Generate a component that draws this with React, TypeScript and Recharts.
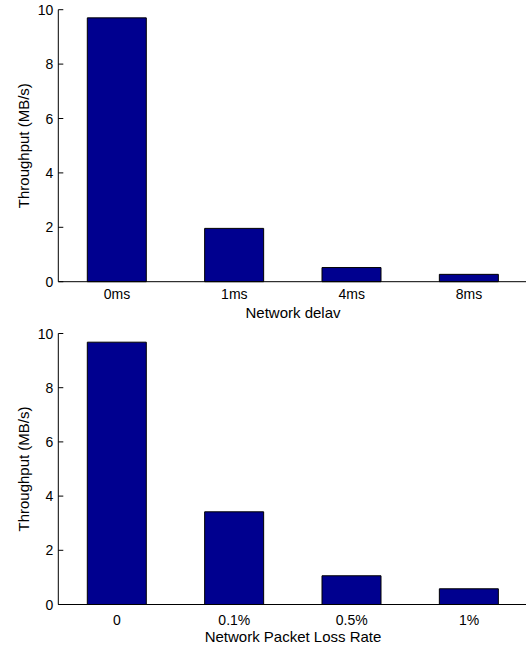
import React from 'react';
import { BarChart, Bar, XAxis, YAxis } from 'recharts';

// Throughput under different network delays
const delayCategories = ['0ms', '1ms', '4ms', '8ms'];
const delayThroughput = [9.7, 1.96, 0.52, 0.27];

// Throughput under different packet loss rates
const lossCategories = ['0', '0.1%', '0.5%', '1%'];
const lossThroughput = [9.68, 3.42, 1.06, 0.58];

const yTicks = [0, 2, 4, 6, 8, 10];

const FONT = 'Liberation Sans, Arial, Helvetica, sans-serif';
const BAR_FILL = '#00008f';

const delayData = delayCategories.map((name, i) => ({ name, value: delayThroughput[i] }));
const lossData = lossCategories.map((name, i) => ({ name, value: lossThroughput[i] }));

// y ticks point inward, labels sit left of the axis
const YTick = (props: any) => {
  const { x, y, payload } = props;
  return (
    <g>
      <line x1={x} x2={x + 5} y1={y} y2={y} stroke="#000" strokeWidth={1} />
      <text x={x - 5} y={y} dy="0.36em" textAnchor="end" fontFamily={FONT} fontSize={14} fill="#000">
        {payload.value}
      </text>
    </g>
  );
};

// small inward ticks along the top edge of the box
const TopTick = (props: any) => {
  const { x, y } = props;
  return <line x1={x} x2={x} y1={y} y2={y + 5} stroke="#000" strokeWidth={1} />;
};

type PanelProps = {
  data: { name: string; value: number }[];
  top: number;
  height: number;
  marginTop: number;
  xAxisHeight: number;
  tickGap: number;
  xLabel: string;
  labelOffset: number;
};

const Panel = ({ data, top, height, marginTop, xAxisHeight, tickGap, xLabel, labelOffset }: PanelProps) => (
  <div style={{ position: 'absolute', left: 0, top, width: 530, height }}>
    <BarChart
      width={530}
      height={height}
      data={data}
      margin={{ top: marginTop, right: 2.3, bottom: 0, left: 0 }}
      barSize={59}
    >
      <XAxis
        dataKey="name"
        height={xAxisHeight}
        axisLine={{ stroke: '#000', strokeWidth: 1 }}
        tickLine={false}
        tickSize={0}
        tickMargin={tickGap}
        tick={{ fill: '#000', fontFamily: FONT, fontSize: 14 }}
        interval={0}
        label={{
          value: xLabel,
          position: 'insideTop',
          offset: labelOffset,
          fill: '#000',
          fontFamily: FONT,
          fontSize: 15,
        }}
      />
      <XAxis
        xAxisId="top"
        dataKey="name"
        orientation="top"
        height={0}
        axisLine={{ stroke: '#000', strokeWidth: 1 }}
        tickLine={false}
        tickSize={0}
        tickMargin={0}
        tick={<TopTick />}
        interval={0}
      />
      <YAxis
        width={58.3}
        domain={[0, 10]}
        ticks={yTicks}
        interval={0}
        axisLine={{ stroke: '#000', strokeWidth: 1 }}
        tickLine={false}
        tickSize={0}
        tickMargin={0}
        tick={<YTick />}
        label={{
          value: 'Throughput (MB/s)',
          angle: -90,
          position: 'insideLeft',
          offset: 23.5,
          fill: '#000',
          fontFamily: FONT,
          fontSize: 15,
          style: { textAnchor: 'middle' },
        }}
      />
      <Bar dataKey="value" fill={BAR_FILL} stroke="#000" strokeWidth={1} isAnimationActive={false} />
    </BarChart>
  </div>
);

export default function App() {
  return (
    <div
      style={{
        position: 'absolute',
        left: 0,
        top: 0,
        width: 526,
        height: 648,
        overflow: 'hidden',
        background: '#fff',
      }}
    >
      <Panel
        data={delayData}
        top={0}
        height={330}
        marginTop={9.7}
        xAxisHeight={48.3}
        tickGap={7.6}
        xLabel="Network delav"
        labelOffset={25.4}
      />
      <Panel
        data={lossData}
        top={324}
        height={324}
        marginTop={9.5}
        xAxisHeight={43.5}
        tickGap={10.5}
        xLabel="Network Packet Loss Rate"
        labelOffset={26.9}
      />
    </div>
  );
}
